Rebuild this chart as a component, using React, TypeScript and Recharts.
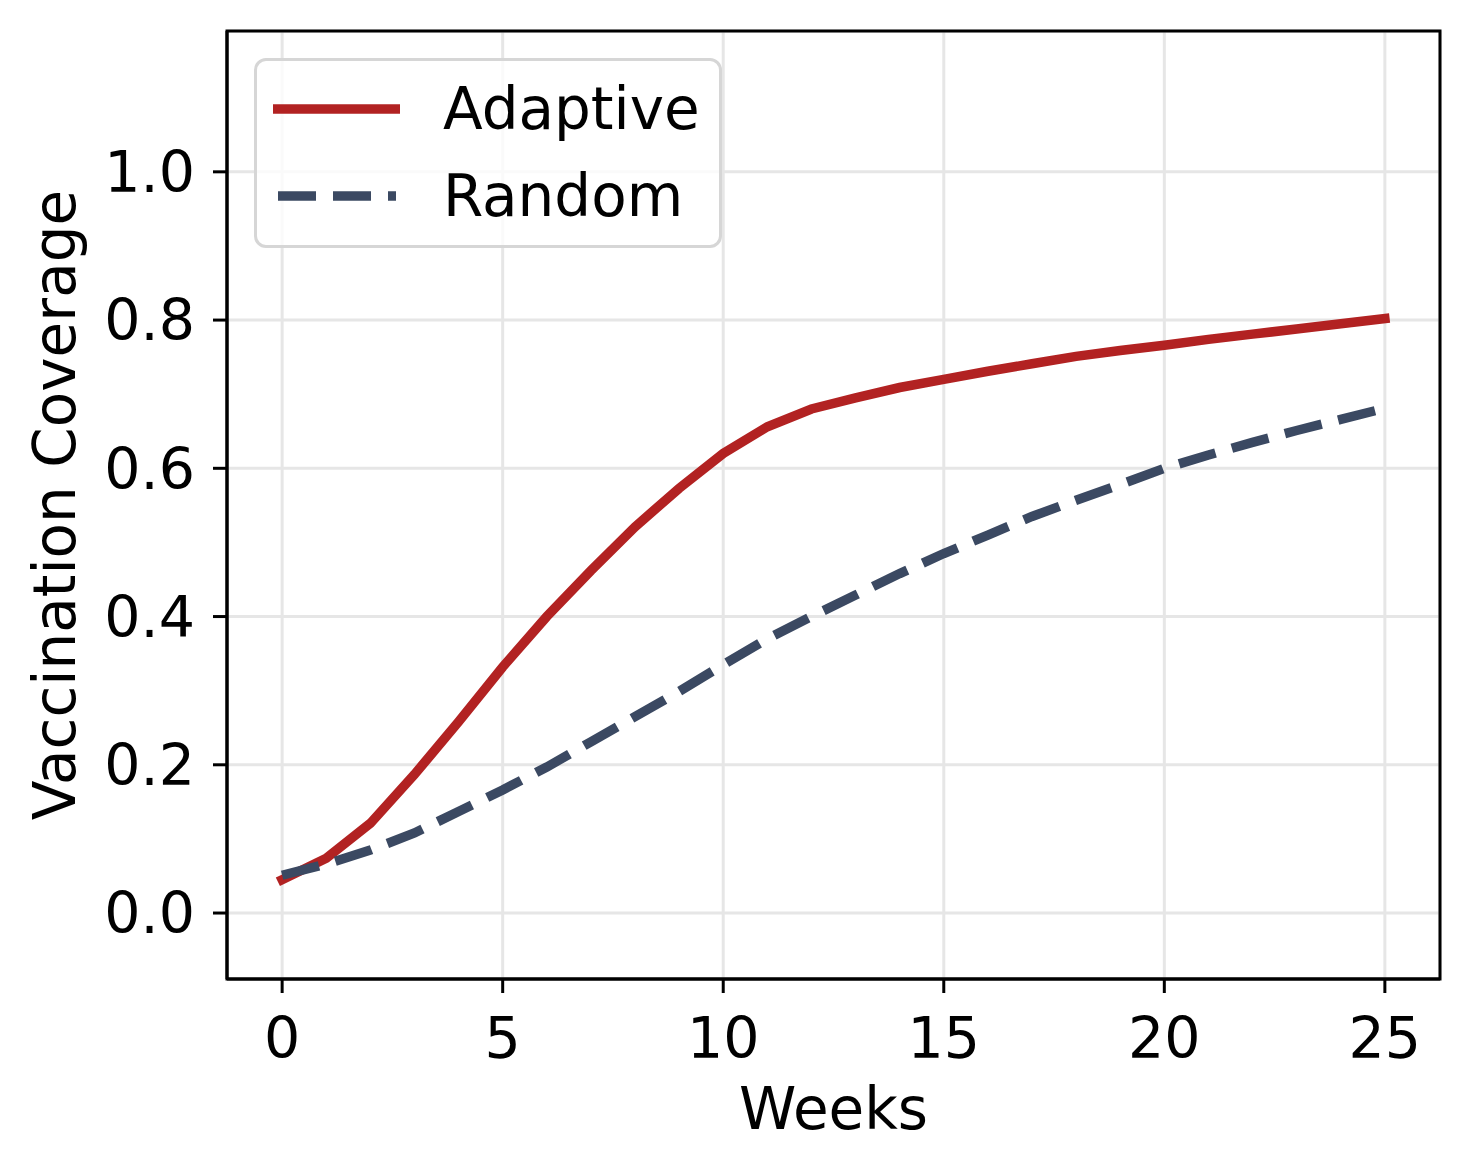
import React from 'react';
import { LineChart, Line, XAxis, YAxis, CartesianGrid, Legend, ReferenceArea } from 'recharts';

const weeks = [0, 1, 2, 3, 4, 5, 6, 7, 8, 9, 10, 11, 12, 13, 14, 15, 16, 17, 18, 19, 20, 21, 22, 23, 24, 25];
const adaptive = [
  0.045, 0.074, 0.121, 0.187, 0.258, 0.332, 0.4, 0.462, 0.521, 0.573, 0.62, 0.656, 0.68,
  0.695, 0.709, 0.72, 0.731, 0.741, 0.751, 0.759, 0.766, 0.774, 0.781, 0.788, 0.795, 0.802,
];
const random = [
  0.051, 0.066, 0.085, 0.108, 0.137, 0.166, 0.197, 0.231, 0.265, 0.299, 0.335, 0.37, 0.4,
  0.429, 0.458, 0.485, 0.51, 0.535, 0.557, 0.578, 0.6, 0.618, 0.635, 0.651, 0.666, 0.681,
];
const xTicks = [0, 5, 10, 15, 20, 25];
const yTicks = [0, 0.2, 0.4, 0.6, 0.8, 1.0];
const xDomain = [-1.25, 26.25];
const yDomain = [-0.089, 1.19];

const FONT = '"DejaVu Sans", sans-serif';

const series = [
  { key: 'adaptive', name: 'Adaptive', color: '#b22222', dash: undefined as string | undefined },
  { key: 'random', name: 'Random', color: '#3b4962', dash: '38 17' },
];

const data = weeks.map((w, i) => ({ week: w, adaptive: adaptive[i], random: random[i] }));

function LegendBox() {
  return (
    <div
      style={{
        width: 468,
        height: 190,
        boxSizing: 'border-box',
        border: '3px solid #d6d6d6',
        borderRadius: 12,
        background: 'rgba(255,255,255,0.8)',
        position: 'relative',
        fontFamily: FONT,
      }}
    >
      {series.map((s, i) => (
        <div key={s.key} style={{ position: 'absolute', left: 0, top: 48 + i * 87 - 40, height: 80, width: 460 }}>
          <svg width={160} height={80} style={{ position: 'absolute', left: 0, top: 0 }}>
            <line
              x1={s.dash ? 21 : 16}
              x2={s.dash ? 139 : 143}
              y1={40}
              y2={40}
              stroke={s.color}
              strokeWidth={9.5}
              strokeDasharray={s.dash}
            />
          </svg>
          <span
            style={{
              position: 'absolute',
              left: 186,
              top: 40,
              transform: 'translateY(-50%)',
              fontSize: 58,
              lineHeight: '58px',
              color: '#000',
              whiteSpace: 'nowrap',
            }}
          >
            {s.name}
          </span>
        </div>
      ))}
    </div>
  );
}

export default function App() {
  return (
    <div style={{ position: 'absolute', left: 0, top: 0, width: 1469, height: 1170, background: '#fff' }}>
      <LineChart width={1469} height={1170} data={data} margin={{ top: 31, right: 29, left: 0, bottom: 0 }}>
        <CartesianGrid stroke="#e6e6e6" strokeWidth={3} />
        <XAxis
          dataKey="week"
          type="number"
          domain={xDomain}
          ticks={xTicks}
          height={191}
          allowDataOverflow
          tickSize={14}
          tickMargin={25}
          axisLine={{ stroke: '#000', strokeWidth: 3 }}
          tickLine={{ stroke: '#000', strokeWidth: 3 }}
          tick={{ fill: '#000', fontSize: 57, fontFamily: FONT }}
          label={{ value: 'Weeks', position: 'insideBottom', offset: 41, fill: '#000', fontSize: 58, fontFamily: FONT }}
        />
        <YAxis
          type="number"
          domain={yDomain}
          ticks={yTicks}
          width={227}
          allowDataOverflow
          tickSize={14}
          tickMargin={18}
          tickFormatter={(v: number) => v.toFixed(1)}
          axisLine={{ stroke: '#000', strokeWidth: 3 }}
          tickLine={{ stroke: '#000', strokeWidth: 3 }}
          tick={{ fill: '#000', fontSize: 57, fontFamily: FONT }}
          label={{
            value: 'Vaccination Coverage',
            angle: -90,
            position: 'insideLeft',
            offset: 54,
            fill: '#000',
            fontSize: 58,
            fontFamily: FONT,
            style: { textAnchor: 'middle' },
          }}
        />
        <ReferenceArea
          x1={xDomain[0]}
          x2={xDomain[1]}
          y1={yDomain[0]}
          y2={yDomain[1]}
          fill="none"
          fillOpacity={0}
          stroke="#000"
          strokeWidth={3}
          ifOverflow="visible"
        />
        {series.map((s) => (
          <Line
            key={s.key}
            type="linear"
            dataKey={s.key}
            name={s.name}
            stroke={s.color}
            strokeWidth={9.5}
            strokeDasharray={s.dash}
            strokeLinecap={s.dash ? 'butt' : 'square'}
            dot={false}
            activeDot={false}
            isAnimationActive={false}
          />
        ))}
        <Legend
          layout="vertical"
          align="center"
          verticalAlign="middle"
          content={() => <LegendBox />}
          wrapperStyle={{ left: 254, top: 58, width: 468, height: 190 }}
        />
      </LineChart>
    </div>
  );
}
